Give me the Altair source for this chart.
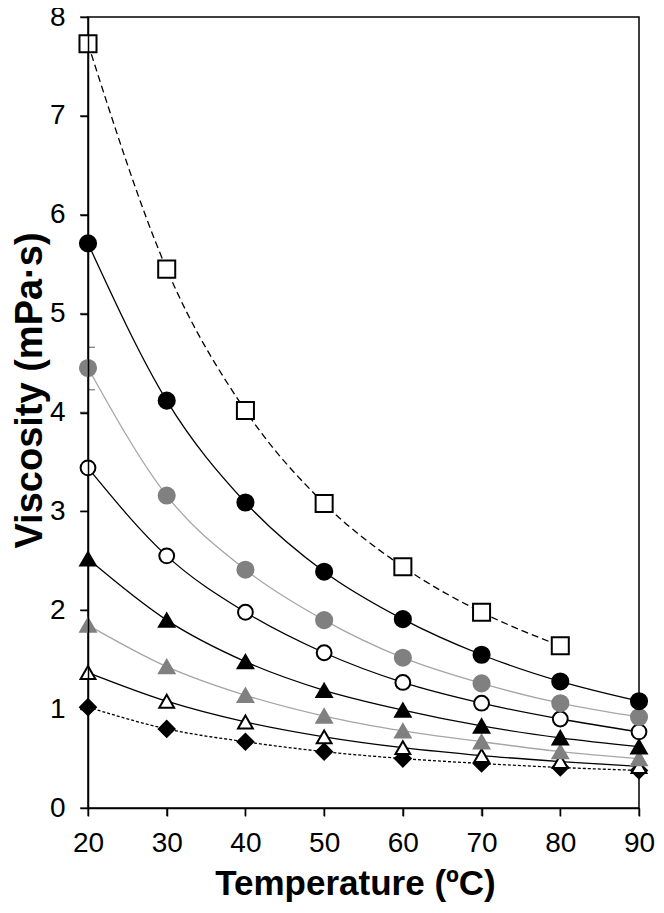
import altair as alt
import pandas as pd

temps = [20, 30, 40, 50, 60, 70, 80, 90]
square_open = [7.73, 5.45, 4.02, 3.08, 2.44, 1.98, 1.64]
circle_black = [5.71, 4.12, 3.09, 2.39, 1.91, 1.55, 1.28, 1.08]
circle_grey = [4.45, 3.16, 2.41, 1.90, 1.52, 1.26, 1.06, 0.92]
circle_open = [3.44, 2.55, 1.98, 1.57, 1.27, 1.06, 0.90, 0.77]
tri_black = [2.52, 1.90, 1.48, 1.19, 0.99, 0.83, 0.71, 0.62]
tri_grey = [1.85, 1.43, 1.14, 0.93, 0.78, 0.67, 0.57, 0.50]
tri_open = [1.37, 1.08, 0.87, 0.72, 0.61, 0.53, 0.47, 0.42]
diamond_black = [1.02, 0.80, 0.67, 0.57, 0.50, 0.45, 0.41, 0.38]

err_temp = [20]
err_lo = [4.23]
err_hi = [4.66]

x_ticks = [20, 30, 40, 50, 60, 70, 80, 90]
y_ticks = [0, 1, 2, 3, 4, 5, 6, 7, 8]

FONT = "Liberation Sans"

# series: (values, shape, fill, stroke, line colour, dash, size)
series = [
    (diamond_black, "diamond", "black", "black", "black", [3, 2], 250),
    (tri_open, "triangle-up", "white", "black", "black", [], 220),
    (tri_grey, "triangle-up", "#808080", "#808080", "#a6a6a6", [], 240),
    (tri_black, "triangle-up", "black", "black", "black", [], 240),
    (circle_open, "circle", "white", "black", "black", [], 220),
    (circle_grey, "circle", "#808080", "#808080", "#a6a6a6", [], 260),
    (circle_black, "circle", "black", "black", "black", [], 260),
    (square_open, "square", "white", "black", "black", [7, 4], 290),
]

xscale = alt.Scale(domain=[20, 90], nice=False, zero=False)
yscale = alt.Scale(domain=[0, 8], nice=False)

axis_common = dict(
    grid=False, labelFlush=False, labelFont=FONT, labelFontSize=28, labelColor="black",
    titleFont=FONT, titleFontWeight="bold", titleColor="black",
    ticks=True, tickSize=8, tickColor="#000000", tickOpacity=1, tickWidth=1.5,
    domainColor="black", domainWidth=1.5, zindex=1,
)

xaxis = alt.Axis(
    values=x_ticks, title="Temperature (ºC)", labelPadding=13,
    titleFontSize=35, titleX=267, titleY=86, titleBaseline="alphabetic", titleAlign="center",
    **axis_common,
)
yaxis = alt.Axis(
    values=y_ticks, title="Viscosity (mPa·s)", labelPadding=15,
    titleFontSize=38, titleX=-58, titleY=373, titleBaseline="middle", titleAlign="center",
    titleAngle=-90,
    **axis_common,
)

X = lambda f: alt.X(f"{f}:Q", scale=xscale, axis=xaxis)
Y = lambda f: alt.Y(f"{f}:Q", scale=yscale, axis=yaxis)

lines = []
points = []
for vals, shape, fill, stroke, lcol, dash, size in series:
    df = pd.DataFrame({"T": temps[:len(vals)], "V": vals})
    lmark = alt.Chart(df).mark_line(
        interpolate="monotone", color=lcol, strokeWidth=1.3,
        **({"strokeDash": dash} if dash else {})
    ).encode(x=X("T"), y=Y("V"))
    pmark = alt.Chart(df).mark_point(
        shape=shape, filled=False, fill=fill, fillOpacity=1, stroke=stroke,
        strokeWidth=2, opacity=1, size=size
    ).encode(x=X("T"), y=Y("V"))
    lines.append(lmark)
    points.append(pmark)

err_df = pd.DataFrame({"T": err_temp, "lo": err_lo, "hi": err_hi})
err_rule = alt.Chart(err_df).mark_rule(color="#404040", strokeWidth=1.2).encode(
    x=X("T"), y=Y("lo"), y2="hi:Q"
)
err_lo_tick = alt.Chart(err_df).mark_tick(color="#404040", thickness=1.2, size=14, clip=True, orient="horizontal").encode(
    x=X("T"), y=Y("lo")
)
err_hi_tick = alt.Chart(err_df).mark_tick(color="#404040", thickness=1.2, size=14, clip=True, orient="horizontal").encode(
    x=X("T"), y=Y("hi")
)

# explicit outward tick marks along the axes
ytick_df = pd.DataFrame({"T": [x_ticks[0]] * len(y_ticks), "V": y_ticks})
xtick_df = pd.DataFrame({"T": x_ticks, "V": [y_ticks[0]] * len(x_ticks)})
ytick_marks = alt.Chart(ytick_df).mark_tick(
    color="black", thickness=1.5, size=8, orient="horizontal", xOffset=-4
).encode(x=X("T"), y=Y("V"))
xtick_marks = alt.Chart(xtick_df).mark_tick(
    color="black", thickness=1.5, size=8, orient="vertical", yOffset=4
).encode(x=X("T"), y=Y("V"))

chart = alt.layer(
    *lines, err_rule, err_lo_tick, err_hi_tick, ytick_marks, xtick_marks, *points
).properties(
    width=551, height=791,
    autosize=alt.AutoSizeParams(type="none"),
    padding={"left": 80, "top": 9, "right": 17, "bottom": 97},
    background="white",
).configure_view(stroke="black", strokeWidth=1.5).configure_axis(
    ticks=True, tickSize=8, tickColor="#000000", tickWidth=1.5
)

chart.save("out.html", embed_options={"renderer": "svg", "actions": False})
